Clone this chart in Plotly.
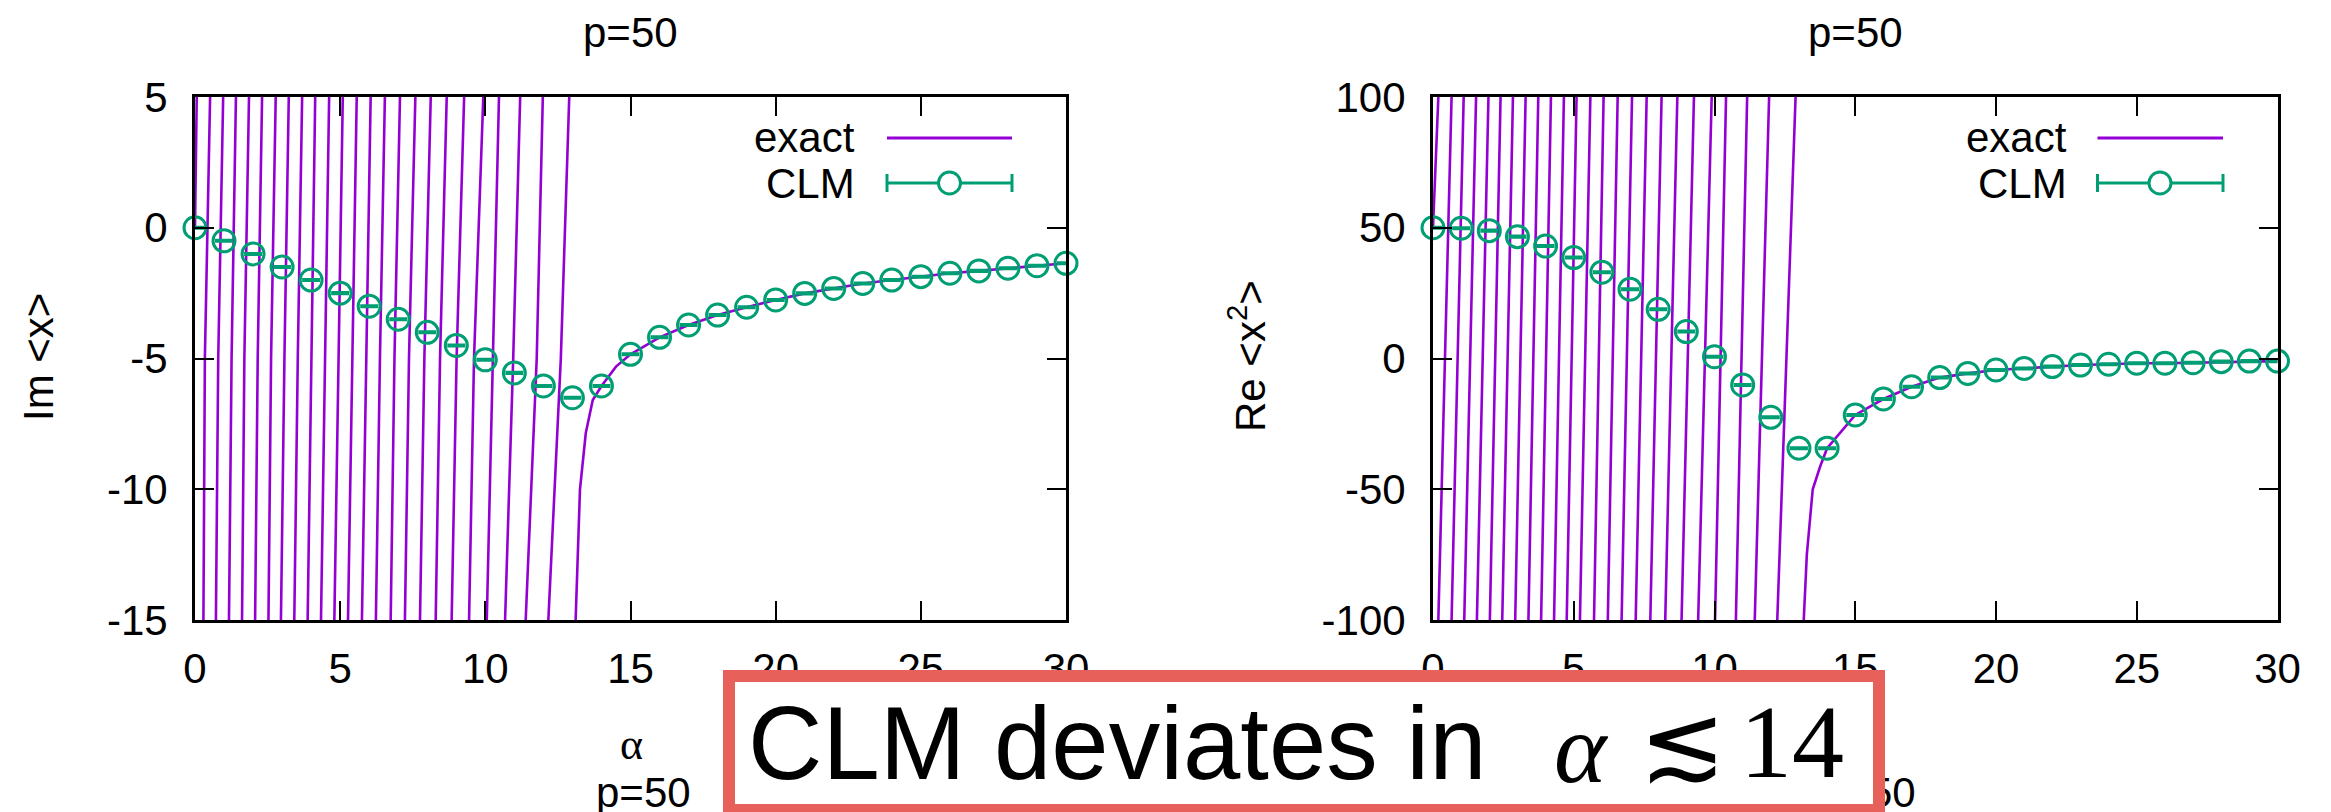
import plotly.graph_objects as go

W, H = 2331, 812

# ---------------- data ----------------
alpha_clm = [0, 1, 2, 3, 4, 5, 6, 7, 8, 9, 10, 11, 12, 13, 14, 15, 16, 17, 18, 19,
             20, 21, 22, 23, 24, 25, 26, 27, 28, 29, 30]
im_x_clm = [0.0, -0.5, -1.0, -1.5, -2.0, -2.5, -3.0, -3.5, -4.0, -4.5, -5.05, -5.55,
            -6.05, -6.5, -6.05, -4.84, -4.19, -3.72, -3.34, -3.04, -2.76, -2.51,
            -2.32, -2.13, -2.00, -1.87, -1.74, -1.65, -1.55, -1.45, -1.36]
im_x_err = [0.02, 0.02, 0.02, 0.02, 0.02, 0.02, 0.02, 0.02, 0.02, 0.02, 0.02, 0.02,
            0.02, 0.02, 0.02, 0.02, 0.02, 0.02, 0.02, 0.02, 0.02, 0.02, 0.02, 0.02,
            0.02, 0.02, 0.02, 0.02, 0.02, 0.02, 0.02]
re_x2_clm = [50.0, 49.8, 48.9, 46.6, 43.0, 38.6, 33.0, 26.5, 18.8, 10.3, 0.7, -10.1,
             -22.5, -34.3, -34.3, -21.6, -15.5, -10.8, -7.3, -5.7, -4.4, -3.8, -3.1,
             -2.5, -2.2, -1.8, -1.8, -1.6, -1.2, -1.0, -1.0]
re_x2_err = [0.2, 0.2, 0.2, 0.2, 0.2, 0.2, 0.2, 0.2, 0.2, 0.2, 0.2, 0.2, 0.2, 0.2,
             0.2, 0.2, 0.2, 0.2, 0.2, 0.2, 0.2, 0.2, 0.2, 0.2, 0.2, 0.2, 0.2, 0.2,
             0.2, 0.2, 0.2]

# exact Im<x>: branches between poles, read as the alpha where each branch
# crosses the levels below (bottom of frame, middle, top of frame)
im_levels = [-15.0, -5.0, 5.0]
im_branch_bottom = [0.29, 0.72, 1.17, 1.62, 2.07, 2.53, 2.96, 3.42, 3.88, 4.34, 4.80,
                    5.27, 5.75, 6.23, 6.74, 7.23, 7.75, 8.29, 8.84, 9.44, 10.05,
                    10.68, 11.39, 12.17]
im_branch_mid = [0.34, 0.80, 1.26, 1.70, 2.16, 2.62, 3.08, 3.54, 4.00, 4.48, 4.94,
                 5.42, 5.89, 6.37, 6.87, 7.37, 7.90, 8.44, 9.01, 9.61, 10.25, 10.96,
                 11.77, 12.60]
im_branch_top = [0.52, 0.97, 1.41, 1.86, 2.31, 2.78, 3.23, 3.69, 4.14, 4.62, 5.09,
                 5.57, 6.05, 6.54, 7.06, 7.59, 8.12, 8.67, 9.27, 9.93, 10.47, 11.20,
                 11.98, 12.89]
im_first_alpha = [0.0, 0.06]
im_first_value = [0.0, 5.0]
im_tail_alpha = [13.11, 13.26, 13.46, 13.70, 14.0, 14.5, 15, 16, 17, 18, 19, 20, 21,
                 22, 23, 24, 25, 26, 27, 28, 29, 30]
im_tail_value = [-15.0, -10.0, -7.85, -6.59, -6.05, -5.31, -4.84, -4.19, -3.72,
                 -3.34, -3.04, -2.76, -2.51, -2.32, -2.13, -2.00, -1.87, -1.74, -1.65,
                 -1.55, -1.45, -1.36]

# exact Re<x^2>
re_levels = [-100.0, 100.0]
re_branch_bottom = [0.19, 0.66, 1.11, 1.56, 2.02, 2.46, 2.92, 3.39, 3.84, 4.30, 4.75,
                    5.22, 5.72, 6.21, 6.70, 7.20, 7.72, 8.25, 8.83, 9.42, 10.02,
                    10.76, 11.43, 12.23]
re_branch_top = [0.66, 1.09, 1.53, 1.97, 2.40, 2.84, 3.29, 3.74, 4.19, 4.65, 5.10,
                 5.59, 6.06, 6.56, 7.07, 7.59, 8.12, 8.68, 9.27, 9.90, 10.41, 11.16,
                 11.94, 12.88]
re_first_alpha = [0.0, 0.19]
re_first_value = [50.0, 100.0]
re_tail_alpha = [13.17, 13.28, 13.49, 13.75, 14.0, 15, 16, 17, 18, 19, 20, 21, 22,
                 23, 24, 25, 26, 27, 28, 29, 30]
re_tail_value = [-100.0, -75.0, -50.0, -41.4, -34.3, -21.6, -15.5, -10.8, -7.3,
                 -5.7, -4.4, -3.8, -3.1, -2.5, -2.2, -1.8, -1.8, -1.6, -1.2, -1.0,
                 -1.0]

x_ticks = [0, 5, 10, 15, 20, 25, 30]
im_ticks = [-15, -10, -5, 0, 5]
re_ticks = [-100, -50, 0, 50, 100]

# ---------------- styling ----------------
PURPLE = "#9400D3"
GREEN = "#009E73"
RED = "#E8605A"
SANS = "Liberation Sans, Arial, sans-serif"
SERIF = "Liberation Serif, DejaVu Serif, serif"
FS = 42


def px(x):
    return x / W


def py(y):
    return 1 - y / H


def build_exact(first_a, first_v, bottoms, mids, tops, levels, tail_a, tail_v):
    xs, ys = list(first_a) + [None], list(first_v) + [None]
    for i in range(len(bottoms)):
        pts = [bottoms[i]] + ([mids[i]] if mids is not None else []) + [tops[i]]
        xs += pts + [None]
        ys += list(levels) + [None]
    xs += list(tail_a)
    ys += list(tail_v)
    return xs, ys


fig = go.Figure()

ix, iy = build_exact(im_first_alpha, im_first_value, im_branch_bottom, im_branch_mid,
                     im_branch_top, im_levels, im_tail_alpha, im_tail_value)
rx, ry = build_exact(re_first_alpha, re_first_value, re_branch_bottom, None,
                     re_branch_top, re_levels, re_tail_alpha, re_tail_value)

clm_marker = dict(symbol="circle-open", size=22, line=dict(color=GREEN, width=3),
                  color=GREEN)

fig.add_trace(go.Scatter(x=ix, y=iy, mode="lines", line=dict(color=PURPLE, width=2.6),
                         xaxis="x", yaxis="y", connectgaps=False, name="exact"))
fig.add_trace(go.Scatter(x=alpha_clm, y=im_x_clm, mode="markers", xaxis="x", yaxis="y",
                         marker=clm_marker,
                         error_y=dict(type="data", array=im_x_err, color=GREEN,
                                      thickness=3, width=9),
                         cliponaxis=False, name="CLM"))
fig.add_trace(go.Scatter(x=rx, y=ry, mode="lines", line=dict(color=PURPLE, width=2.6),
                         xaxis="x2", yaxis="y2", connectgaps=False, name="exact"))
fig.add_trace(go.Scatter(x=alpha_clm, y=re_x2_clm, mode="markers", xaxis="x2", yaxis="y2",
                         marker=clm_marker,
                         error_y=dict(type="data", array=re_x2_err, color=GREEN,
                                      thickness=3, width=9),
                         cliponaxis=False, name="CLM"))

TOP, BOT = 97, 620
LX0, LX1 = 195, 1066
RX0, RX1 = 1433, 2277.5

axis_common = dict(showline=True, linewidth=3, linecolor="black", mirror="ticks",
                   ticks="inside", ticklen=19, tickwidth=2, tickcolor="black",
                   showgrid=False, zeroline=False, automargin=False,
                   tickfont=dict(family=SANS, size=FS, color="black"),
                   fixedrange=True)

fig.update_layout(
    width=W, height=H,
    margin=dict(l=0, r=0, t=0, b=0, pad=0, autoexpand=False),
    paper_bgcolor="white", plot_bgcolor="white", showlegend=False,
    xaxis=dict(domain=[px(LX0), px(LX1)], range=[0, 30], tickvals=x_ticks,
               ticktext=[str(v) for v in x_ticks],
               anchor="y", ticklabelstandoff=10, **axis_common),
    yaxis=dict(domain=[py(BOT), py(TOP)], range=[-15, 5], tickvals=im_ticks,
               ticktext=[str(v) for v in im_ticks],
               anchor="x", ticklabelstandoff=16, **axis_common),
    xaxis2=dict(domain=[px(RX0), px(RX1)], range=[0, 30], tickvals=x_ticks,
                ticktext=[str(v) for v in x_ticks],
                anchor="y2", ticklabelstandoff=10, **axis_common),
    yaxis2=dict(domain=[py(BOT), py(TOP)], range=[-100, 100], tickvals=re_ticks,
                ticktext=[str(v) for v in re_ticks],
                anchor="x2", ticklabelstandoff=16, **axis_common),
)

ann = []


def text(x, y, s, size=FS, family=SANS, xanchor="center", angle=0, **kw):
    d = dict(x=px(x), y=py(y), xref="paper", yref="paper", text=s,
             showarrow=False, xanchor=xanchor, yanchor="middle",
             textangle=angle, font=dict(family=family, size=size, color="black"))
    d.update(kw)
    ann.append(d)


# titles
text((LX0 + LX1) / 2, 33, "p=50")
text((RX0 + RX1) / 2, 33, "p=50")
# axis titles
text(38, 357, "Im &lt;x&gt;", angle=-90)
text(1247, 356, "Re &lt;x<sup>2</sup>&gt;", angle=-90)
text(631, 744, "α", size=44, family=SERIF)
text(1855, 744, "α", size=44, family=SERIF)
# next-row titles (cut off by the page edge)
text(643, 792, "p=50")
text(1868, 792, "p=50")
# legends
text(857, 138, "exact", xanchor="right")
text(857, 183, "CLM", xanchor="right")
text(2069, 138, "exact", xanchor="right")
text(2069, 183, "CLM", xanchor="right")

# highlighted note box (drawn after the texts it hides)
BOX_L, BOX_T, BOX_R, BOX_B = 723, 670, 1885, 816
BW, BP = 12, 13
ann.append(dict(x=px(BOX_L), y=py(BOX_T), xref="paper", yref="paper",
                xanchor="left", yanchor="top", showarrow=False,
                text="CLM deviates in", align="left", valign="middle",
                width=BOX_R - BOX_L - 2 * (BW + BP),
                height=BOX_B - BOX_T - 2 * (BW + BP),
                bgcolor="white", bordercolor=RED, borderwidth=BW, borderpad=BP,
                font=dict(family=SANS, size=103, color="black")))
text(1581, 748, "<i>α</i>", size=100, family=SERIF)
text(1682, 742, "≲", size=104, family="DejaVu Sans ExtraLight, DejaVu Sans")
text(1792, 741, "14", size=104, family=SERIF)

shapes = []


def seg(x0, y0, x1, y1, color, width):
    shapes.append(dict(type="line", xref="paper", yref="paper", x0=px(x0), y0=py(y0),
                       x1=px(x1), y1=py(y1), line=dict(color=color, width=width)))


for (a, b, c) in [(887, 1012, 949.5), (2097.5, 2223, 2160)]:
    seg(a, 138, b, 138, PURPLE, 3)
    seg(a, 183, b, 183, GREEN, 3)
    seg(a, 174, a, 192, GREEN, 3)
    seg(b, 174, b, 192, GREEN, 3)
    shapes.append(dict(type="circle", xref="paper", yref="paper",
                       x0=px(c - 11), x1=px(c + 11), y0=py(183 + 11),
                       y1=py(183 - 11), line=dict(color=GREEN, width=3),
                       fillcolor="white"))

fig.update_layout(shapes=shapes, annotations=ann)

fig.write_html("out.html")
